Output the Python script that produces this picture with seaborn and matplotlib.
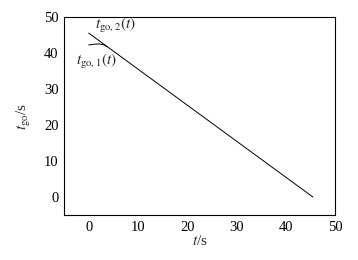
import matplotlib
matplotlib.use('Agg')
import matplotlib.pyplot as plt
import seaborn as sns

# time-to-go estimates
t2 = [0.0, 45.5]
tgo2 = [45.5, 0.0]
t1 = [0.0, 1.0, 2.0, 3.0, 3.8]
tgo1 = [42.2, 42.4, 42.5, 42.3, 41.7]

x_ticks = [0, 10, 20, 30, 40, 50]
y_ticks = [0, 10, 20, 30, 40, 50]

sns.set_style('white')
plt.rcParams['font.family'] = ['Liberation Serif', 'DejaVu Serif']
plt.rcParams['mathtext.fontset'] = 'stix'
plt.rcParams['xtick.direction'] = 'in'
plt.rcParams['ytick.direction'] = 'in'

fig = plt.figure(figsize=(3.58, 2.6), dpi=100)
ax = fig.add_axes([0.179, 0.173, 0.757, 0.762])

sns.lineplot(x=t2, y=tgo2, ax=ax, color='black', linewidth=0.7)
sns.lineplot(x=t1, y=tgo1, ax=ax, color='black', linewidth=0.7)

ax.set_xlim(-5, 50)
ax.set_ylim(-5, 50)
ax.set_xticks(x_ticks)
ax.set_yticks(y_ticks)
ax.tick_params(labelsize=10.5, length=3, width=0.7, colors='black', pad=4)
for s in ax.spines.values():
    s.set_color('black')
    s.set_linewidth(0.8)

ax.text(1.2, 46.8, r'$t_{\mathrm{go,2}}(t)$', fontsize=11)
ax.text(-2.6, 36.6, r'$t_{\mathrm{go,1}}(t)$', fontsize=11)

ax.set_xlabel(r'$t$/s', fontsize=11, labelpad=0)
ax.set_ylabel(r'$t_{\mathrm{go}}$/s', fontsize=11, labelpad=8)

fig.savefig('out.png', dpi=100)
